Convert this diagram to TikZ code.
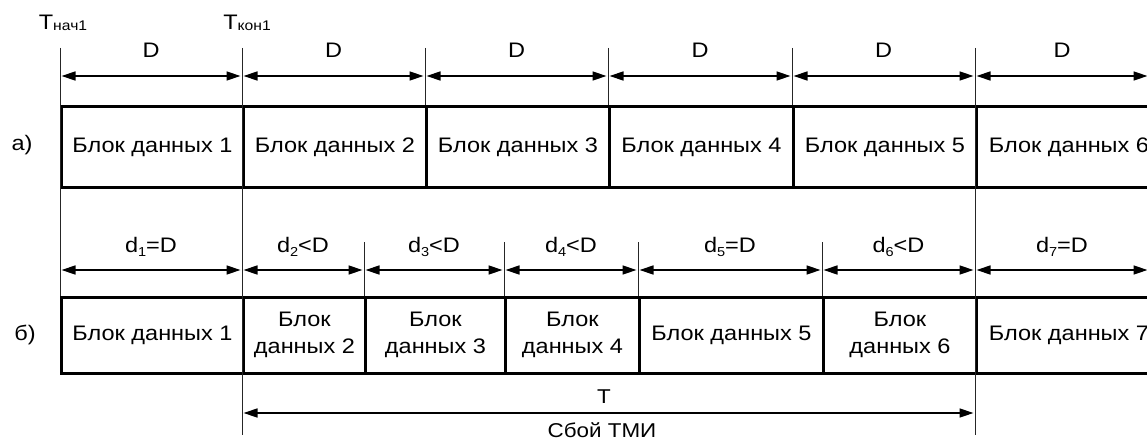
\documentclass[tikz,border=0pt]{standalone}
\usepackage{fontspec}
\setmainfont{Liberation Sans}[FakeStretch=1.12]
\usepackage{graphicx}
\usetikzlibrary{arrows.meta,calc}
\newcommand{\mysub}[1]{\raisebox{-0.35ex}{\fontsize{13}{13}\selectfont #1}}
\newcommand{\tsub}[1]{\raisebox{-1pt}{\fontsize{14}{14}\selectfont #1}}
\begin{document}
\begin{tikzpicture}[x=1pt,y=-1pt,
  blk/.style={draw, line width=3pt, inner sep=0pt, anchor=west, align=center,
    font=\fontsize{21}{27}\selectfont},
  tick/.style={line width=1pt, draw=black!85},
  dim/.style={line width=1.4pt, {Triangle[length=14pt,width=9pt]}-{Triangle[length=14pt,width=9pt]},
    shorten <=1.5pt, shorten >=1.5pt},
  lbl/.style={font=\fontsize{21}{26}\selectfont, inner sep=0pt},
  tlbl/.style={inner sep=0pt, font=\fontsize{21}{21}\selectfont}]
\clip (0,0) rectangle (1147,441);
\fill[white] (0,0) rectangle (1147,441);

% ---------- row a) blocks ----------
\node[blk, minimum width=182pt, minimum height=80pt] (A1) at (60,147) {Блок данных 1};
\node[blk, minimum width=183pt, minimum height=80pt] (A2) at (242,147) {Блок данных 2};
\node[blk, minimum width=183pt, minimum height=80pt] (A3) at (425,147) {Блок данных 3};
\node[blk, minimum width=184pt, minimum height=80pt] (A4) at (608,147) {Блок данных 4};
\node[blk, minimum width=183pt, minimum height=80pt] (A5) at (792,147) {Блок данных 5};
\node[blk, minimum width=185pt, minimum height=80pt] (A6) at (975,147) {Блок данных 6};

% ---------- row b) blocks ----------
\node[blk, minimum width=182pt, minimum height=76pt] (B1) at (60,335) {Блок данных 1};
\node[blk, minimum width=122pt, minimum height=76pt] (B2) at (242,335) {Блок\\данных 2};
\node[blk, minimum width=140pt, minimum height=76pt] (B3) at (364,335) {Блок\\данных 3};
\node[blk, minimum width=134pt, minimum height=76pt] (B4) at (504,335) {Блок\\данных 4};
\node[blk, minimum width=184pt, minimum height=76pt] (B5) at (638,335) {Блок данных 5};
\node[blk, minimum width=153pt, minimum height=76pt] (B6) at (822,335) {Блок\\данных 6};
\node[blk, minimum width=185pt, minimum height=76pt] (B7) at (975,335) {Блок данных 7};

% row labels
\node[lbl] (la) at (22,145) {а)};
\node[lbl] (lb) at (25,335) {б)};

% ---------- row a) ticks and dimensions ----------
\foreach \n/\x in {0/60,1/242,2/425,3/608,4/792,5/975}{
  \coordinate (ta\n) at (\x,48);
  \coordinate (da\n) at (\x,76);
}
\coordinate (da6) at (1149,76);
\coordinate (bot1) at (242,435);
\coordinate (bot5) at (975,435);

\draw[tick] (ta0) -- (B1.north west);
\draw[tick] (ta1) -- (bot1);
\draw[tick] (ta2) -- (A3.north west);
\draw[tick] (ta3) -- (A4.north west);
\draw[tick] (ta4) -- (A5.north west);
\draw[tick] (ta5) -- (bot5);

\foreach \i/\j in {0/1,1/2,2/3,3/4,4/5,5/6}{
  \draw[dim] (da\i) -- (da\j);
  \node[lbl] (D\j) at ($(da\i)!0.5!(da\j)+(0,-26)$) {D};
}

% ---------- row b) ticks and dimensions ----------
\foreach \n/\x in {0/60,1/242,2/364,3/504,4/638,5/822,6/975}{
  \coordinate (db\n) at (\x,270);
}
\coordinate (db7) at (1149,270);
\foreach \n/\x in {2/364,3/504,4/638,5/822}{
  \coordinate (tb\n) at (\x,242);
}
\draw[tick] (tb2) -- (B3.north west);
\draw[tick] (tb3) -- (B4.north west);
\draw[tick] (tb4) -- (B5.north west);
\draw[tick] (tb5) -- (B6.north west);

\foreach \i/\j in {0/1,1/2,2/3,3/4,4/5,5/6,6/7}{
  \draw[dim] (db\i) -- (db\j);
}
\node[lbl] (d1) at ($(db0)!0.5!(db1)+(0,-23)$) {d\mysub{1}=D};
\node[lbl] (d2) at ($(db1)!0.5!(db2)+(0,-23)$) {d\mysub{2}<D};
\node[lbl] (d3) at ($(db2)!0.5!(db3)+(0,-23)$) {d\mysub{3}<D};
\node[lbl] (d4) at ($(db3)!0.5!(db4)+(0,-23)$) {d\mysub{4}<D};
\node[lbl] (d5) at ($(db4)!0.5!(db5)+(0,-23)$) {d\mysub{5}=D};
\node[lbl] (d6) at ($(db5)!0.5!(db6)+(0,-23)$) {d\mysub{6}<D};
\node[lbl] (d7) at ($(db6)!0.5!(db7)+(0,-23)$) {d\mysub{7}=D};

% ---------- T interval ----------
\coordinate (T0) at (242,413);
\coordinate (T1) at (975,413);
\draw[dim] (T0) -- (T1);
\node[lbl, font=\fontsize{20}{24}\selectfont] (Tl) at (604,397) {T};
\node[lbl, font=\fontsize{20}{24}\selectfont] (fail) at (602,430) {Сбой ТМИ};

% ---------- time marks ----------
\node[tlbl, anchor=base] (Tn) at (63,30) {T\tsub{нач1}};
\node[tlbl, anchor=base] (Tk) at (247,30) {T\tsub{кон1}};
\end{tikzpicture}
\end{document}
